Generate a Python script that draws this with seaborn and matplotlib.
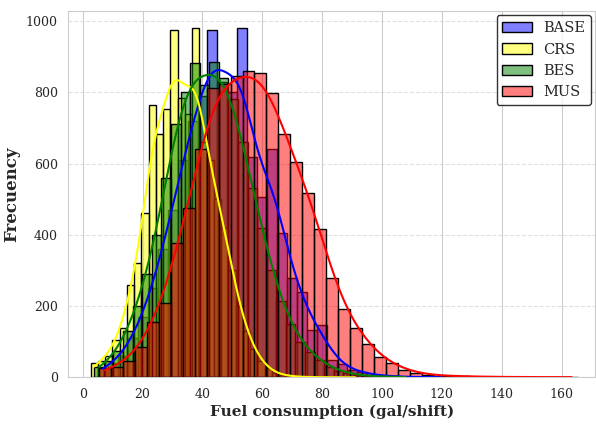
import numpy as np
import pandas as pd
import seaborn as sns
import matplotlib
matplotlib.use("Agg")
import matplotlib.pyplot as plt
from matplotlib.patches import Patch

# ---- data (bin counts) ----
series_names = ["BASE", "CRS", "BES", "MUS"]
series_colors = ["blue", "yellow", "green", "red"]

base_start, base_width = 5.07, 3.33
base_counts = [25, 40, 60, 110, 170, 250, 360, 470, 610, 720, 790, 976, 830, 800,
               979, 619, 507, 642, 404, 278, 240, 133, 147, 50, 37, 20, 14, 8, 5,
               3, 2, 1, 1, 0, 1]

crs_start, crs_width = 2.68, 2.42
crs_counts = [40, 45, 60, 105, 139, 259, 320, 460, 764, 684, 754, 976, 783, 740,
              979, 660, 610, 500, 420, 300, 200, 130, 80, 45, 25, 12, 6, 4, 2, 1,
              1, 0, 1, 0, 0, 0, 1]

bes_start, bes_width = 3.9, 3.2
bes_counts = [30, 45, 75, 130, 200, 290, 400, 560, 712, 800, 881, 820, 885, 840,
              780, 660, 530, 420, 300, 215, 150, 100, 70, 50, 30, 18, 12, 7, 4, 3,
              2, 1, 1]

mus_start, mus_width = 5.4, 4.0
mus_counts = [25, 30, 45, 85, 156, 208, 376, 476, 640, 812, 822, 845, 860, 854,
              798, 682, 605, 518, 415, 280, 191, 139, 95, 56, 39, 22, 13, 8, 5, 4,
              3, 2, 2, 1, 1, 1, 1, 0, 1, 1]

x_label = "Fuel consumption (gal/shift)"
y_label = "Frecuency"

specs = [
    (base_start, base_width, base_counts),
    (crs_start, crs_width, crs_counts),
    (bes_start, bes_width, bes_counts),
    (mus_start, mus_width, mus_counts),
]

sns.set_style("whitegrid")
plt.rcParams["font.family"] = ["DejaVu Serif"]

fig, ax = plt.subplots(figsize=(5.96, 4.24), dpi=100)
fig.subplots_adjust(left=0.1146, right=0.999, top=0.974, bottom=0.110)

for name, color, (start, width, counts) in zip(series_names, series_colors, specs):
    counts = np.asarray(counts, dtype=float)
    n = len(counts)
    centers = start + width * (np.arange(n) + 0.5)
    df = pd.DataFrame({"x": centers, "w": counts})
    sns.histplot(data=df, x="x", weights="w", binwidth=width,
                 binrange=(start, start + width * n), kde=True,
                 color=color, alpha=0.5, edgecolor="black", linewidth=1.0,
                 kde_kws={"bw_adjust": 0.45}, line_kws={"linewidth": 1.5},
                 ax=ax)

ax.set_xlim(-4.8, 171.3)
ax.set_xlabel(x_label, fontsize=11, fontweight="bold", labelpad=3)
ax.set_ylabel(y_label, fontsize=12, fontweight="bold", labelpad=4)
ax.tick_params(labelsize=9, pad=4)
ax.set_xticks([0, 20, 40, 60, 80, 100, 120, 140, 160])
ax.set_yticks([0, 200, 400, 600, 800, 1000])
ax.grid(axis="y", linestyle="--", alpha=0.6)
ax.grid(axis="x", linestyle="-")
for s in ax.spines.values():
    s.set_edgecolor("#cccccc")

handles = [Patch(facecolor=matplotlib.colors.to_rgba(c, 0.5), edgecolor="black")
           for c in series_colors]
leg = ax.legend(handles, series_names, loc="upper right", fontsize=10.5,
                frameon=True, edgecolor="black", fancybox=True,
                borderaxespad=0.3)
leg.get_frame().set_linewidth(1.0)

fig.savefig("out.png", dpi=100)
